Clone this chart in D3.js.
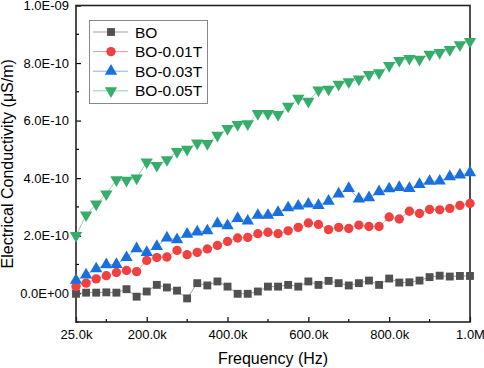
<!DOCTYPE html>
<html>
<head>
<meta charset="utf-8">
<script src="https://cdn.jsdelivr.net/npm/d3@7"></script>
<style>
  body { margin: 0; background: #fff; }
  svg { font-family: "Liberation Sans", Arial, sans-serif; }
</style>
</head>
<body>
<div class="chart-container"></div>
<script>
// frequency in kHz, 25k steps
const frequency = d3.range(1, 41).map(i => i * 25);

const boValues = [-0.002, 0.002, 0.002, 0.003, 0.002, 0.014, -0.012, 0.006, 0.029, 0.020,
  0.009, -0.018, 0.035, 0.027, 0.041, 0.023, -0.002, -0.002, 0.006, 0.023,
  0.023, 0.029, 0.023, 0.041, 0.029, 0.043, 0.035, 0.027, 0.035, 0.044,
  0.029, 0.051, 0.037, 0.038, 0.044, 0.056, 0.061, 0.058, 0.060, 0.060];

const bo001Values = [0.023, 0.035, 0.050, 0.061, 0.072, 0.079, 0.075, 0.114, 0.124, 0.126,
  0.149, 0.134, 0.142, 0.154, 0.166, 0.180, 0.192, 0.194, 0.207, 0.212,
  0.207, 0.217, 0.229, 0.244, 0.239, 0.221, 0.229, 0.225, 0.237, 0.232,
  0.232, 0.265, 0.258, 0.285, 0.277, 0.291, 0.290, 0.295, 0.305, 0.312];

const bo003Values = [0.045, 0.064, 0.085, 0.099, 0.100, 0.124, 0.155, 0.142, 0.163, 0.192,
  0.186, 0.205, 0.213, 0.217, 0.242, 0.235, 0.260, 0.251, 0.271, 0.271,
  0.281, 0.297, 0.303, 0.310, 0.305, 0.320, 0.345, 0.364, 0.328, 0.332,
  0.353, 0.363, 0.368, 0.364, 0.378, 0.389, 0.390, 0.405, 0.411, 0.419];

const bo005Values = [0.200, 0.272, 0.310, 0.345, 0.394, 0.392, 0.400, 0.456, 0.444, 0.464,
  0.492, 0.500, 0.522, 0.520, 0.549, 0.572, 0.586, 0.589, 0.624, 0.624,
  0.621, 0.650, 0.677, 0.667, 0.706, 0.709, 0.726, 0.735, 0.744, 0.760,
  0.766, 0.791, 0.809, 0.816, 0.813, 0.830, 0.836, 0.847, 0.863, 0.875];

const seriesNames = ['BO', 'BO-0.01T', 'BO-0.03T', 'BO-0.05T'];
const seriesValues = [boValues, bo001Values, bo003Values, bo005Values];
const seriesColors = ['#515151', '#F14040', '#1A6FDF', '#37AD6B'];
const seriesSymbols = [d3.symbolSquare, d3.symbolCircle, d3.symbolTriangle, d3.symbolTriangle];

const xTicks = [25, 200, 400, 600, 800, 1000];
const xTickLabels = ['25.0k', '200.0k', '400.0k', '600.0k', '800.0k', '1.0M'];
const yTicks = [0, 0.2, 0.4, 0.6, 0.8, 1.0];
const yTickLabels = ['0.0E+00', '2.0E-10', '4.0E-10', '6.0E-10', '8.0E-10', '1.0E-09'];

// layout
const width = 484;
const height = 368;
const plot = {left: 76, right: 470, top: 5.5, bottom: 322};

const svg = d3.select('.chart-container')
  .append('svg')
  .attr('width', width)
  .attr('height', height);

// scales (y in units of 1e-9)
const xScale = d3.scaleLinear()
  .domain([25, 1000])
  .range([plot.left, plot.right]);

const yScale = d3.scaleLinear()
  .domain([-0.1, 1.0])
  .range([plot.bottom, plot.top]);

// axes with inward ticks
const xAxis = d3.axisBottom(xScale)
  .tickValues(xTicks)
  .tickFormat((d, i) => xTickLabels[i])
  .tickSizeInner(-5)
  .tickSizeOuter(0)
  .tickPadding(8);

const xAxisDraw = svg.append('g')
  .attr('transform', `translate(0, ${plot.bottom})`)
  .call(xAxis);

const yAxis = d3.axisLeft(yScale)
  .tickValues(yTicks)
  .tickFormat((d, i) => yTickLabels[i])
  .tickSizeInner(-5)
  .tickSizeOuter(0)
  .tickPadding(7);

const yAxisDraw = svg.append('g')
  .attr('transform', `translate(${plot.left}, 0)`)
  .call(yAxis);

// minor ticks
svg.append('g')
  .selectAll('line')
  .data([100, 300, 500, 700, 900])
  .join('line')
  .attr('x1', d => xScale(d))
  .attr('x2', d => xScale(d))
  .attr('y1', plot.bottom)
  .attr('y2', plot.bottom - 3)
  .attr('stroke', '#000')
  .attr('stroke-width', 1.2);

svg.append('g')
  .selectAll('line')
  .data([-0.1, 0.1, 0.3, 0.5, 0.7, 0.9])
  .join('line')
  .attr('x1', plot.left)
  .attr('x2', plot.left + 3)
  .attr('y1', d => yScale(d))
  .attr('y2', d => yScale(d))
  .attr('stroke', '#000')
  .attr('stroke-width', 1.2);

[xAxisDraw, yAxisDraw].forEach(ax => {
  ax.select('.domain').remove();
  ax.selectAll('line').attr('stroke', '#000').attr('stroke-width', 1.2);
  ax.selectAll('text')
    .attr('fill', '#000')
    .style('font-size', '13px')
    .style('font-family', '"Liberation Sans", Arial, sans-serif');
});

// frame
svg.append('rect')
  .attr('x', plot.left)
  .attr('y', plot.top)
  .attr('width', plot.right - plot.left)
  .attr('height', plot.bottom - plot.top)
  .attr('fill', 'none')
  .attr('stroke', '#222')
  .attr('stroke-width', 1.6);

// lines and markers
const line = d3.line()
  .x((d, i) => xScale(frequency[i]))
  .y(d => yScale(d));

const symbolSizes = [62, 68, 66, 66];

seriesValues.forEach((values, s) => {
  svg.append('path')
    .datum(values)
    .attr('fill', 'none')
    .attr('stroke', seriesColors[s])
    .attr('stroke-opacity', 0.55)
    .attr('stroke-width', 1)
    .attr('d', line);

  svg.append('g')
    .selectAll('path')
    .data(values)
    .join('path')
    .attr('transform', (d, i) => `translate(${xScale(frequency[i])}, ${yScale(d)})` + (s === 3 ? ' rotate(180)' : ''))
    .attr('d', d3.symbol().type(seriesSymbols[s]).size(symbolSizes[s]))
    .attr('fill', seriesColors[s]);
});

// legend
const legend = svg.append('g');

legend.append('rect')
  .attr('x', 89.5)
  .attr('y', 20.5)
  .attr('width', 118)
  .attr('height', 83)
  .attr('fill', '#fff')
  .attr('stroke', '#888')
  .attr('stroke-width', 1);

seriesNames.forEach((name, s) => {
  const y = 32 + s * 19.6;
  legend.append('line')
    .attr('x1', 93)
    .attr('x2', 128)
    .attr('y1', y)
    .attr('y2', y)
    .attr('stroke', seriesColors[s])
    .attr('stroke-opacity', 0.55)
    .attr('stroke-width', 1);
  legend.append('path')
    .attr('transform', `translate(111, ${y})` + (s === 3 ? ' rotate(180)' : ''))
    .attr('d', d3.symbol().type(seriesSymbols[s]).size(symbolSizes[s]))
    .attr('fill', seriesColors[s]);
  legend.append('text')
    .attr('x', 135)
    .attr('y', y + 5.5)
    .style('font-size', '15.5px')
    .text(name);
});

// axis titles
svg.append('text')
  .attr('x', (plot.left + plot.right) / 2)
  .attr('y', 364)
  .attr('text-anchor', 'middle')
  .style('font-size', '16px')
  .text('Frequency (Hz)');

svg.append('text')
  .attr('transform', `translate(13, ${(plot.top + plot.bottom) / 2}) rotate(-90)`)
  .attr('text-anchor', 'middle')
  .style('font-size', '16px')
  .text('Electrical Conductivity (μS/m)');
</script>
</body>
</html>
